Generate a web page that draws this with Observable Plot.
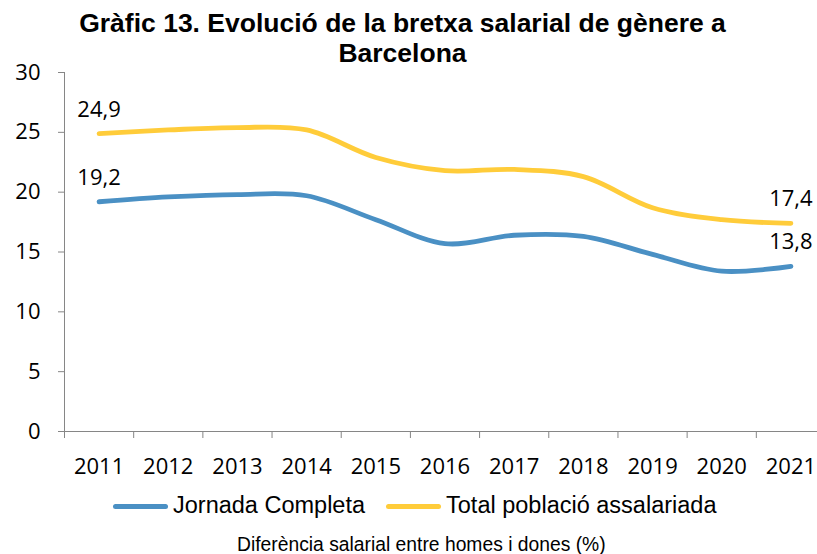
<!DOCTYPE html>
<html>
<head>
<meta charset="utf-8">
<script src="https://cdn.jsdelivr.net/npm/d3@7"></script>
<script src="https://cdn.jsdelivr.net/npm/@observablehq/plot@0.6"></script>
<style>
  body { margin: 0; background: #fff; }
  #wrap { position: relative; width: 817px; height: 554px; overflow: hidden; font-family: "Liberation Sans", Arial, sans-serif; color: #000; }
  #title { position: absolute; left: 0; top: 8px; width: 805px; text-align: center; font-weight: bold; font-size: 26.5px; line-height: 30px; }
  #chart { position: absolute; left: 0; top: 62px; }
  #legend { position: absolute; left: 113px; top: 491px; height: 30px; display: flex; align-items: center; font-size: 23.5px; line-height: 23.5px; white-space: nowrap; }
  #legend .sw { width: 55px; height: 5px; border-radius: 2.5px; margin-right: 5px; }
  #legend .item { display: flex; align-items: center; margin-right: 21px; }
  #caption { position: absolute; left: 237px; top: 535px; font-size: 19.3px; line-height: 20px; white-space: nowrap; }
</style>
</head>
<body>
<div id="wrap">
  <div id="title"></div>
  <div id="chart"></div>
  <div id="legend"></div>
  <div id="caption"></div>
</div>
<script>
// ---- data ----
const titleLines = ["Gràfic 13. Evolució de la bretxa salarial de gènere a", "Barcelona"];
const captionText = "Diferència salarial entre homes i dones (%)";
const years = [2011, 2012, 2013, 2014, 2015, 2016, 2017, 2018, 2019, 2020, 2021];
const seriesNames = ["Jornada Completa", "Total població assalariada"];
const jornadaCompleta = [19.2, 19.6, 19.8, 19.7, 17.7, 15.7, 16.4, 16.3, 14.8, 13.4, 13.8];
const totalPoblacio = [24.9, 25.2, 25.4, 25.2, 22.9, 21.8, 21.9, 21.3, 18.7, 17.7, 17.4];
const seriesColors = ["#4A90C4", "#FFCC3A"];
const yTicks = [0, 5, 10, 15, 20, 25, 30];

// ---- build table ----
const rows = [];
years.forEach((yr, i) => {
  rows.push({ year: yr, value: jornadaCompleta[i], serie: seriesNames[0] });
  rows.push({ year: yr, value: totalPoblacio[i], serie: seriesNames[1] });
});
const boundaries = years.map(y => y - 0.5).concat([years[years.length - 1] + 0.5]);
const fmt = v => v.toFixed(1).replace(".", ",");
const axisGray = "#868686";

document.getElementById("title").innerHTML = titleLines.join("<br>");
document.getElementById("caption").textContent = captionText;

const plot = Plot.plot({
  width: 817,
  height: 414,
  marginLeft: 64,
  marginRight: 0,
  marginTop: 10,
  marginBottom: 45,
  style: { fontFamily: '"Open Sans", sans-serif', fontSize: "22px", color: "#000", background: "transparent", overflow: "visible" },
  x: { domain: [boundaries[0], boundaries[boundaries.length - 1]], range: [64, 825] },
  y: { domain: [0, 30] },
  color: { domain: seriesNames, range: seriesColors },
  marks: [
    Plot.axisY({ ticks: yTicks, tickSize: 6, tickPadding: 18, stroke: axisGray, fill: "#000", label: null, fontSize: 22 }),
    Plot.axisX({ ticks: boundaries, tickSize: 7, tickFormat: () => "", stroke: axisGray, label: null }),
    Plot.axisX({ ticks: years, tickSize: 0, tickPadding: 27, tickFormat: d => String(d), fill: "#000", label: null, fontSize: 22 }),
    Plot.ruleX([boundaries[0]], { y1: yTicks[0], y2: yTicks[yTicks.length - 1], stroke: axisGray }),
    Plot.ruleY([0], { stroke: axisGray }),
    Plot.line(rows, { x: "year", y: "value", stroke: "serie", z: "serie", strokeWidth: 4.8, curve: "catmull-rom", strokeLinecap: "round", strokeLinejoin: "round" }),
    Plot.text(rows, {
      filter: d => d.year === years[0] || d.year === years[years.length - 1],
      x: "year", y: "value", text: d => fmt(d.value), dy: -24, fill: "#000", fontSize: 22
    })
  ]
});
document.getElementById("chart").appendChild(plot);

// legend
const legend = document.getElementById("legend");
seriesNames.forEach((name, i) => {
  const item = document.createElement("div");
  item.className = "item";
  const sw = document.createElement("div");
  sw.className = "sw";
  sw.style.background = seriesColors[i];
  const t = document.createElement("span");
  t.textContent = name;
  item.appendChild(sw);
  item.appendChild(t);
  legend.appendChild(item);
});
</script>
</body>
</html>
